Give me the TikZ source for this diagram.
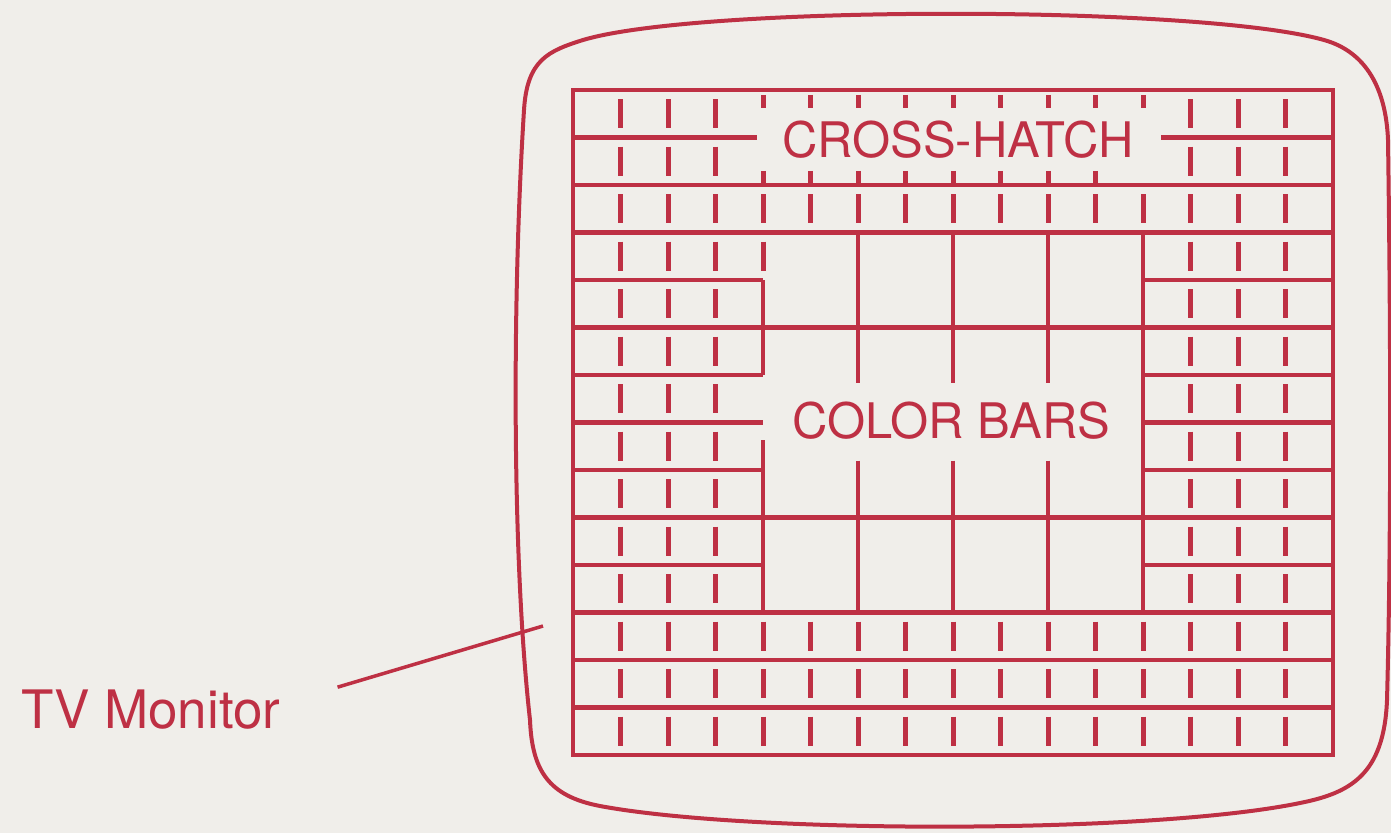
\documentclass[tikz,border=0pt]{standalone}
\usepackage{fontspec}
\setmainfont{TeX Gyre Heros}
\usetikzlibrary{positioning}
\definecolor{tvred}{RGB}{190,48,68}
\definecolor{paper}{RGB}{240,238,234}
\tikzset{
  gridline/.style={draw=tvred, line width=4.5pt},
  hatchmark/.style={draw=tvred, line width=5pt},
  screentext/.style={text=tvred, inner sep=0pt, font=\fontsize{49}{56}\selectfont},
}
\begin{document}
\begin{tikzpicture}[x=1pt, y=-1pt]
  \fill[paper] (0,0) rectangle (1391,833);
  \useasboundingbox (0,0) rectangle (1391,833);

  % monitor housing
  \draw[tvred, line width=4pt] (583,40) .. controls (700,5) and (1200,5) .. (1324,40)
    .. controls (1367,52) and (1386,90) .. (1388,140)
    .. controls (1391,350) and (1391,550) .. (1387,700)
    .. controls (1384,775) and (1350,793) .. (1300,803)
    .. controls (1150,834) and (750,834) .. (600,806)
    .. controls (548,796) and (532,770) .. (530,720)
    .. controls (512,560) and (512,300) .. (524,110)
    .. controls (527,60) and (548,51) .. cycle;

  \begin{scope}[shift={(573,90)}, x=47.5pt, y=-47.5pt]
    \draw[gridline] (0,0) rectangle (16,14);
    % horizontal lines
    \foreach \j in {2,3,5,9,11,12,13}
      \draw[gridline] (0,\j) -- (16,\j);
    \draw[gridline] (0,1) -- (3.87,1);
    \draw[gridline] (12.38,1) -- (16,1);
    \foreach \j in {4,6,7,8,10} {
      \draw[gridline] (0,\j) -- (4,\j);
      \draw[gridline] (12,\j) -- (16,\j);
    }
    % cross-hatch dashes
    \foreach \i in {1,2,3,13,14,15}
      \foreach \j in {0,...,13}
        \draw[hatchmark] (\i,\j+0.19) -- (\i,\j+0.81);
    \foreach \i in {4,...,12}
      \foreach \j in {2,11,12,13}
        \draw[hatchmark] (\i,\j+0.19) -- (\i,\j+0.81);
    \draw[hatchmark] (4,3.19) -- (4,3.81);
    \foreach \i in {4,...,12}
      \draw[hatchmark] (\i,0.1) -- (\i,0.38);
    \foreach \i in {4,...,11}
      \draw[hatchmark] (\i,1.7) -- (\i,1.95);
    % colour bars
    \draw[gridline] (4,4) -- (4,6);
    \draw[gridline] (4,7.37) -- (4,11);
    \draw[gridline] (12,3) -- (12,11);
    \foreach \i in {6,8,10} {
      \draw[gridline] (\i,3) -- (\i,6.17);
      \draw[gridline] (\i,7.8) -- (\i,11);
    }
    \node[screentext] (crosshatch) at (8.1,1.05) {CROSS-HATCH};
    \node[screentext] (colorbars) at (7.96,6.97) {COLOR BARS};
  \end{scope}

  \node[text=tvred, inner sep=0pt, anchor=base west, font=\fontsize{53}{60}\selectfont]
    (tvlabel) at (21,728) {TV Monitor};
  \coordinate (tvtip) at (543,626);
  \draw[tvred, line width=3.5pt] ([xshift=57pt,yshift=2pt]tvlabel.north east) -- (tvtip);
\end{tikzpicture}
\end{document}
